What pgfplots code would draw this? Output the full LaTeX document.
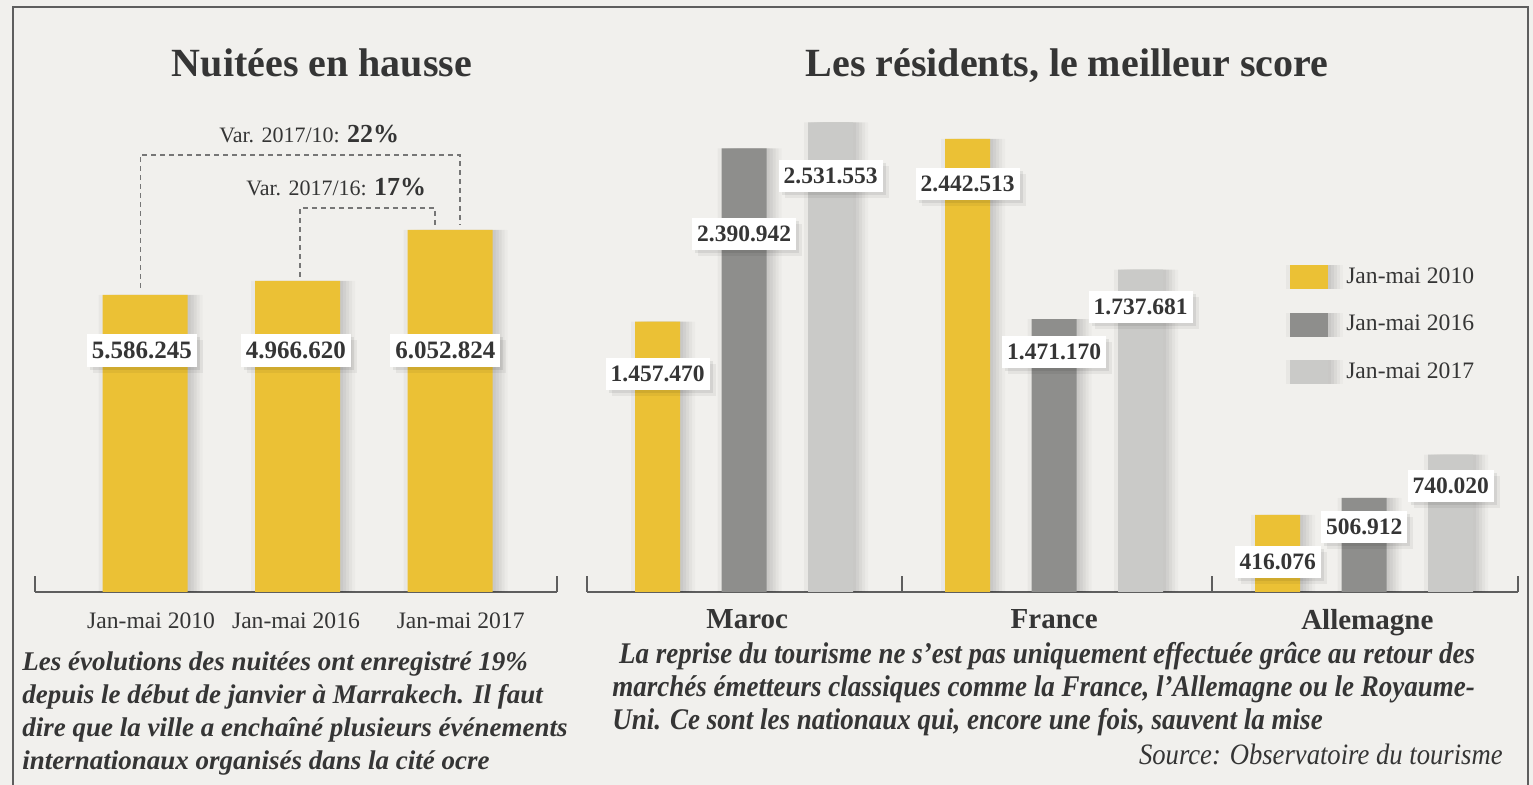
\documentclass[border=0pt]{standalone}
\usepackage{fontspec}
\setmainfont{Liberation Serif}
\newfontfamily\condfont[FakeStretch=0.9]{Liberation Serif}
\usepackage{pgfplots}
\pgfplotsset{compat=1.18}
\definecolor{bg}{HTML}{F1F0ED}
\definecolor{ylw}{HTML}{EBC135}
\definecolor{dgr}{HTML}{8E8E8C}
\definecolor{lgr}{HTML}{CACAC8}
\definecolor{txt}{HTML}{353535}
\definecolor{frm}{HTML}{5E5E5E}
\pgfplotsset{
  sq legend/.style={legend image code/.code={\fill[fill=#1] (0pt,-6pt) rectangle (19pt,6pt);}},
}
\tikzset{
  barshadow/.style={
    preaction={fill=black, opacity=0.035, transform canvas={xshift=-2pt}},
    preaction={fill=black, opacity=0.04, transform canvas={xshift=1.5pt}},
    preaction={fill=black, opacity=0.04, transform canvas={xshift=3pt}},
    preaction={fill=black, opacity=0.035, transform canvas={xshift=4.5pt}},
    preaction={fill=black, opacity=0.03, transform canvas={xshift=6pt}},
    preaction={fill=black, opacity=0.025, transform canvas={xshift=7.5pt}}},
  lblL/.style={fill=white, text=txt, inner xsep=2.5pt, inner ysep=1pt, minimum height=16.5pt,
    font=\bfseries\fontsize{12.5}{13}\selectfont,
    preaction={fill=black, opacity=0.05, transform canvas={shift={(3pt,-3pt)}}},
    preaction={fill=black, opacity=0.07, transform canvas={shift={(1.5pt,-1.5pt)}}}},
  lblR/.style={lblL, font=\bfseries\fontsize{11.75}{12}\selectfont, minimum height=16pt},
  brk/.style={draw=frm!85, line width=0.6pt, dash pattern=on 2.5pt off 2pt},
}
\begin{document}
\begin{tikzpicture}[x=0.5pt,y=0.5pt]
\fill[bg] (0,0) rectangle (1533,785);
\draw[frm, line width=1pt] (13,0) -- (13,778) -- (1528,778) -- (1528,0);

% titles
\node[text=txt, font=\bfseries\fontsize{20}{22}\selectfont, anchor=base] at (322,708) {Nuitées en hausse};
\node[text=txt, font=\bfseries\fontsize{20}{22}\selectfont, anchor=base] at (1067,708) {Les résidents, le meilleur score};

% ---------- left chart ----------
\begin{axis}[at={(17.5pt,96.5pt)}, anchor=south west, scale only axis,
  width=261pt, height=245pt,
  xmin=-0.7213, xmax=2.7016, ymin=0, ymax=8.193e6,
  axis y line=none, axis x line=bottom,
  x axis line style={-, frm, line width=0.9pt},
  xtick={0.04,0.99,2.07}, xticklabels={Jan-mai 2010, Jan-mai 2016, Jan-mai 2017},
  major tick length=0pt,
  extra x ticks={-0.7213,2.7016}, extra x tick labels={},
  extra x tick style={major tick length=8pt, tick align=inside, tick style={frm, line width=0.9pt}},
  xticklabel style={font=\fontsize{11.8}{13}\selectfont, text=txt, yshift=-7pt},
  clip=false]
\addplot[ybar, bar width=42.5pt, bar shift=0pt, fill=ylw, draw=none, barshadow]
  coordinates {(0,4966620) (1,5200000) (2,6052824)};
\draw[brk] (axis cs:-0.03,5.083e6) -- (axis cs:-0.03,7.306e6) -- (axis cs:2.066,7.306e6) -- (axis cs:2.066,6.136e6);
\draw[brk] (axis cs:1.016,5.267e6) -- (axis cs:1.016,6.42e6) -- (axis cs:1.902,6.42e6) -- (axis cs:1.902,6.136e6);
\node[lblL] at (axis cs:-0.02,4.046e6) {5.586.245};
\node[lblL] at (axis cs:0.99,4.046e6) {4.966.620};
\node[lblL] at (axis cs:1.97,4.046e6) {6.052.824};
\end{axis}
\node[anchor=base west, text=txt, font=\fontsize{11}{13}\selectfont, inner sep=0pt] at (219,642) {Var. 2017/10: {\bfseries\fontsize{13}{14}\selectfont 22\%}};
\node[anchor=base west, text=txt, font=\fontsize{11}{13}\selectfont, inner sep=0pt] at (246,589) {Var. 2017/16: {\bfseries\fontsize{13}{14}\selectfont 17\%}};

% ---------- right chart ----------
\begin{axis}[at={(293.5pt,96.5pt)}, anchor=south west, scale only axis,
  width=465.5pt, height=245pt,
  xmin=-0.507, xmax=2.496, ymin=0, ymax=2641500,
  axis y line=none, axis x line=bottom,
  x axis line style={-, frm, line width=0.9pt},
  xtick={0.01,1,2.01}, xticklabels={Maroc, France, Allemagne},
  major tick length=0pt,
  extra x ticks={-0.507,0.508,1.508,2.496}, extra x tick labels={},
  extra x tick style={major tick length=8pt, tick align=inside, tick style={frm, line width=0.9pt}},
  xticklabel style={font=\bfseries\fontsize{14.5}{15}\selectfont, text=txt, yshift=-5pt},
  legend style={at={(0.755,0.671)}, anchor=north west, draw=none, fill=none,
    font=\fontsize{11.8}{13}\selectfont, text=txt, row sep=10.5pt, column sep=7pt, inner sep=0pt},
  legend cell align=left,
  clip=false]
\addplot[ybar, bar width=22.5pt, bar shift=-43.25pt, fill=ylw, draw=none, barshadow, sq legend=ylw]
  coordinates {(0,1457470) (1,2442513) (2,416076)};
\addlegendentry{Jan-mai 2010}
\addplot[ybar, bar width=22.5pt, bar shift=0pt, fill=dgr, draw=none, barshadow, sq legend=dgr]
  coordinates {(0,2390942) (1,1471170) (2,506912)};
\addlegendentry{Jan-mai 2016}
\addplot[ybar, bar width=22.5pt, bar shift=43.25pt, fill=lgr, draw=none, barshadow, sq legend=lgr]
  coordinates {(0,2531553) (1,1737681) (2,740020)};
\addlegendentry{Jan-mai 2017}
\node[lblR] at (axis cs:-0.279,1.175e6) {1.457.470};
\node[lblR] at (axis cs:0,1.930e6) {2.390.942};
\node[lblR] at (axis cs:0.279,2.243e6) {2.531.553};
\node[lblR] at (axis cs:0.721,2.199e6) {2.442.513};
\node[lblR] at (axis cs:1,1.294e6) {1.471.170};
\node[lblR] at (axis cs:1.279,1.536e6) {1.737.681};
\node[lblR] at (axis cs:1.721,0.162e6) {416.076};
\node[lblR] at (axis cs:2,0.350e6) {506.912};
\node[lblR] at (axis cs:2.279,0.571e6) {740.020};
\end{axis}

% captions
\node[anchor=base west, align=left, text=txt, inner sep=0pt,
  font=\bfseries\itshape\fontsize{13.5}{16.5}\selectfont] at (22,15)
  {Les évolutions des nuitées ont enregistré 19\%\\
   depuis le début de janvier à Marrakech. Il faut\\
   dire que la ville a enchaîné plusieurs événements\\
   internationaux organisés dans la cité ocre};
\node[anchor=base west, align=left, text=txt, inner sep=0pt,
  font=\condfont\bfseries\itshape\fontsize{15}{16.5}\selectfont] at (612,55)
  {\ La reprise du tourisme ne s’est pas uniquement effectuée grâce au retour des\\
   marchés émetteurs classiques comme la France, l’Allemagne ou le Royaume-\\
   Uni. Ce sont les nationaux qui, encore une fois, sauvent la mise};
\node[anchor=base east, text=txt, inner sep=0pt,
  font=\condfont\itshape\fontsize{14.8}{16}\selectfont] at (1503,20)
  {Source: Observatoire du tourisme};
\pgfresetboundingbox
\useasboundingbox (0,0) rectangle (1533,785);
\end{tikzpicture}
\end{document}
